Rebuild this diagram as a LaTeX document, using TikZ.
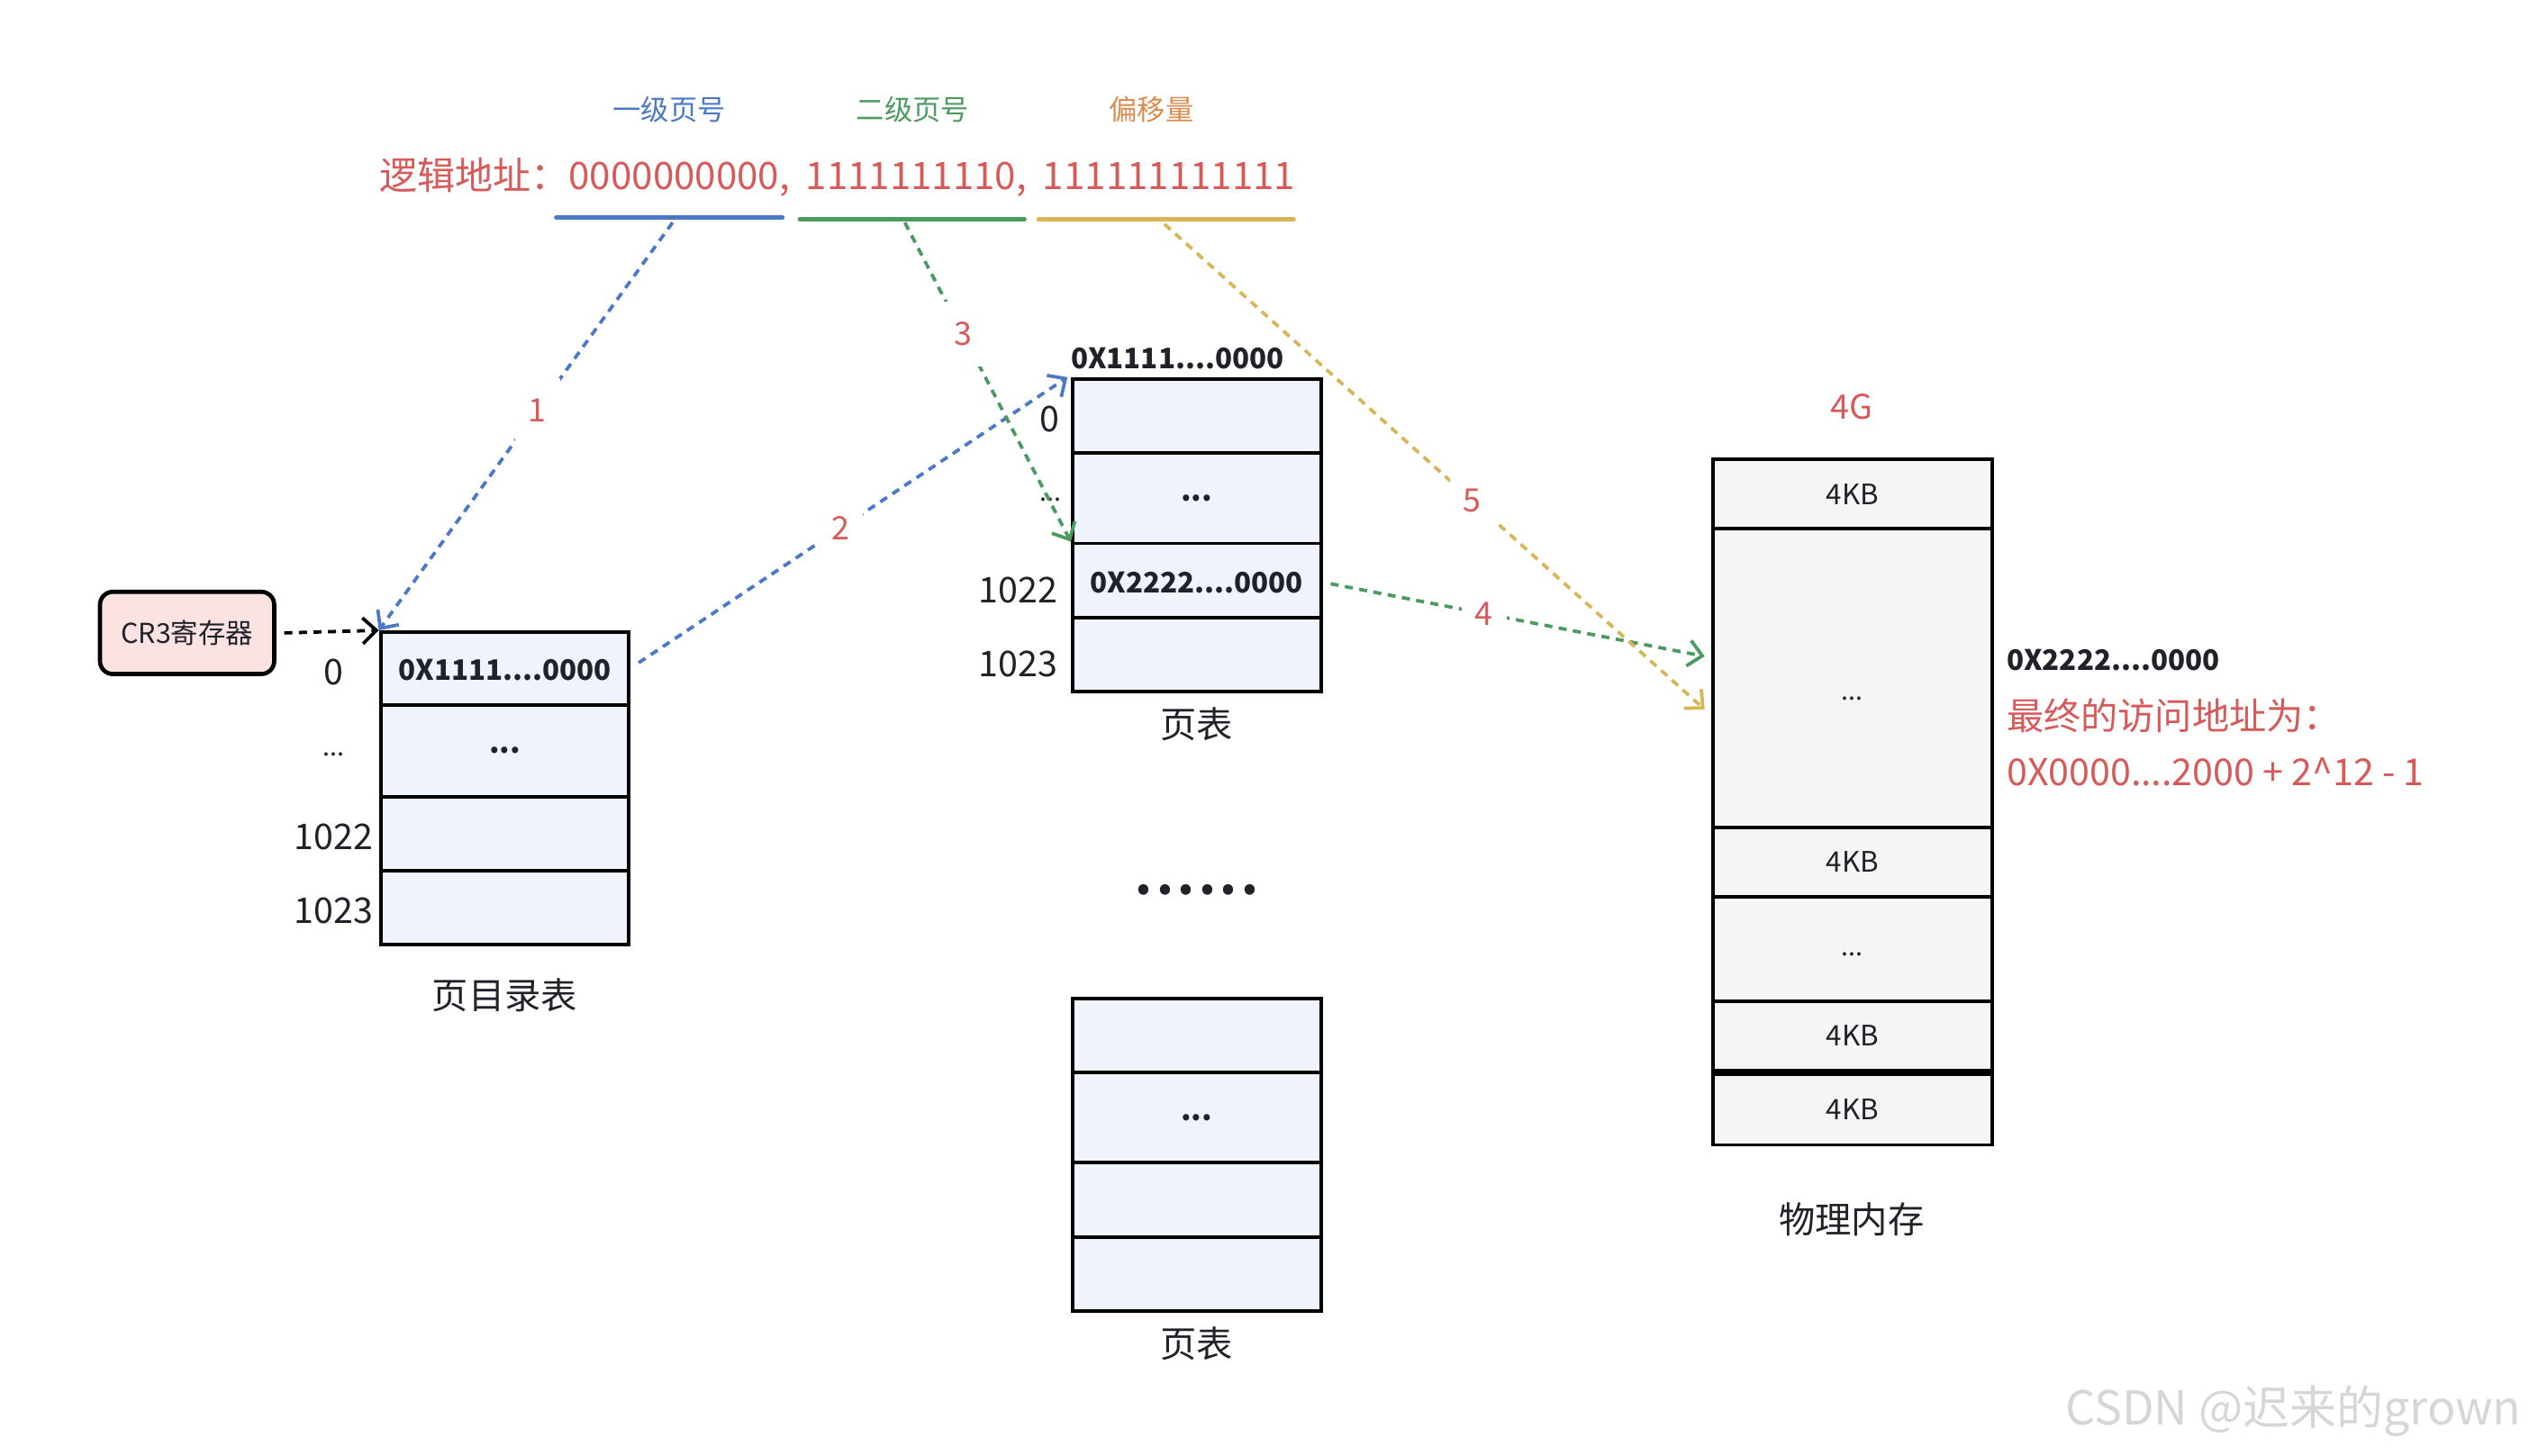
\documentclass[tikz,border=0pt]{standalone}
\usepackage{fontspec}
\setmainfont{Noto Sans CJK SC}
\usetikzlibrary{arrows.meta}
\definecolor{cblue}{HTML}{4C78C8}
\definecolor{cgreen}{HTML}{4B9A60}
\definecolor{cyellow}{HTML}{D6B656}
\definecolor{corange}{HTML}{DB8B4F}
\definecolor{cred}{HTML}{D75A5A}
\definecolor{ctext}{HTML}{1F2329}
\definecolor{tblfill}{HTML}{EEF3FC}
\definecolor{memfill}{HTML}{F5F5F5}
\definecolor{crfill}{HTML}{FDE2E2}
\definecolor{wmark}{HTML}{D6D6D6}
\newcommand\setfs[1]{\fontsize{#1}{#1}\selectfont}
\begin{document}
\begin{tikzpicture}[x=1pt,y=-1pt,
  every node/.style={text=ctext, inner sep=0pt},
  tbl/.style={draw=black, line width=2.2pt, fill=tblfill, minimum width=154pt},
  mem/.style={draw=black, line width=2.2pt, fill=memfill, minimum width=173pt},
  boldtxt/.style={font=\setfs{17.5}\bfseries, text height=15pt, text depth=0pt},
  dotstxt/.style={font=\setfs{18.5}\bfseries},
  numlbl/.style={font=\setfs{22}},
  caption/.style={font=\setfs{22.5}},
  memtxt/.style={font=\setfs{16}},
  kbtxt/.style={font=\setfs{17.5}, text height=12.5pt, text depth=0pt},
  conn/.style={line width=2.1pt, dash pattern=on 5pt off 4pt, -{Straight Barb[length=8.5pt,width=16pt,line width=2.1pt]}},
  lbl/.style={text=cred, font=\setfs{20}, fill=white, minimum width=28pt, minimum height=40pt},
  uline/.style={line width=3pt, line cap=round}
]
\useasboundingbox (0,0) rectangle (1568,902.4);

% top labels
\node[text=cblue, font=\setfs{17.5}] (t1) at (415,68) {一级页号};
\node[text=cgreen, font=\setfs{17.5}] (t2) at (566,68) {二级页号};
\node[text=corange, font=\setfs{17.5}] (t3) at (714,68) {偏移量};
\node[text=cred, font=\setfs{23.5}, anchor=west] (addr) at (235,110) {逻辑地址：0000000000,\hspace{10pt}1111111110,\hspace{10pt}111111111111};

% underlines
\coordinate (ub1) at (345,135); \coordinate (ub2) at (485,135);
\coordinate (ug1) at (496,136); \coordinate (ug2) at (635,136);
\coordinate (uy1) at (644,136); \coordinate (uy2) at (802,136);
\draw[uline, cblue] (ub1) -- (ub2);
\draw[uline, cgreen] (ug1) -- (ug2);
\draw[uline, cyellow] (uy1) -- (uy2);

% CR3
\node[draw=black, line width=2.6pt, fill=crfill, rounded corners=8pt, minimum width=108pt, minimum height=51pt, font=\setfs{17}] (cr3) at (116,392.5) {CR3寄存器};

% page directory
\node[tbl, minimum height=45pt, boldtxt] (pd0) at (313,414.5) {0X1111....0000};
\node[tbl, minimum height=57pt, dotstxt] (pd1) at (313,465.5) {...};
\node[tbl, minimum height=46pt] (pd2) at (313,517) {};
\node[tbl, minimum height=46pt] (pd3) at (313,563) {};
\node[numlbl] (pdl0) at (207,417) {0};
\node[memtxt] (pdl1) at (207,468) {...};
\node[numlbl] (pdl2) at (207,519) {1022};
\node[numlbl] (pdl3) at (207,565) {1023};
\node[caption] (pdcap) at (313,617) {页目录表};

% page table 1
\node[boldtxt] (pthead) at (730,221) {0X1111....0000};
\node[tbl, minimum height=46pt] (pt0) at (742,258) {};
\node[tbl, minimum height=56pt, dotstxt] (pt1) at (742,309) {...};
\node[tbl, minimum height=46pt, boldtxt] (pt2) at (742,360) {0X2222....0000};
\node[tbl, minimum height=46pt] (pt3) at (742,406) {};
\node[numlbl, anchor=east] (ptl0) at (657,260) {0};
\node[memtxt, anchor=east] (ptl1) at (658,310) {...};
\node[numlbl, anchor=east] (ptl2) at (656,366) {1022};
\node[numlbl, anchor=east] (ptl3) at (656,412) {1023};
\node[caption] (ptcap) at (742,449) {页表};

% dots between
\node[font=\setfs{30}\bfseries, anchor=base] (dots) at (742,555) {.\hspace{2.6pt}.\hspace{2.6pt}.\hspace{2.6pt}.\hspace{2.6pt}.\hspace{2.6pt}.};

% page table 2
\node[tbl, minimum height=46pt] (pq0) at (742,642) {};
\node[tbl, minimum height=56pt, dotstxt] (pq1) at (742,693) {...};
\node[tbl, minimum height=46pt] (pq2) at (742,744) {};
\node[tbl, minimum height=46pt] (pq3) at (742,790) {};
\node[caption] (pqcap) at (742,833) {页表};

% physical memory
\node[text=cred, font=\setfs{21}] (g4) at (1148,252) {4G};
\node[mem, minimum height=43pt, kbtxt] (m0) at (1148.5,306.5) {4KB};
\node[mem, minimum height=185pt] (m1) at (1148.5,420.5) {};
\node[memtxt, anchor=base] (m1t) at (1148.5,434) {...};
\node[mem, minimum height=43pt, kbtxt] (m2) at (1148.5,534.5) {4KB};
\node[mem, minimum height=65pt] (m3) at (1148.5,588.5) {};
\node[memtxt, anchor=base] (m3t) at (1148.5,593) {...};
\node[mem, minimum height=43pt, kbtxt] (m4) at (1148.5,642.5) {4KB};
\node[mem, minimum height=44pt, kbtxt] (m5) at (1148.5,688) {4KB};
\node[caption] (mcap) at (1148,756) {物理内存};

% right notes
\node[boldtxt, anchor=west] (r1) at (1244,408) {0X2222....0000};
\node[text=cred, font=\setfs{23}, anchor=west] (r2) at (1244,444) {最终的访问地址为：};
\node[text=cred, font=\setfs{23}, anchor=west] (r3) at (1244,479) {0X0000....2000 + 2\textasciicircum 12 - 1};

% watermark
\node[text=wmark, font=\setfs{29}] (wm) at (1422,875) {CSDN @迟来的grown};

% connectors
\coordinate (a1s) at (417,138);
\coordinate (a2s) at (396,411);
\coordinate (a3s) at (561,138);
\coordinate (a4s) at (825,362);
\coordinate (a5s) at (722,139);
\draw[conn, black] ([xshift=5pt]cr3.east) -- (pd0.north west);
\draw[conn, cblue] (a1s) -- node[lbl, pos=0.46] {1} (pd0.north west);
\draw[conn, cblue] (a2s) -- node[lbl, pos=0.47] {2} ([xshift=-2pt]pt0.north west);
\draw[conn, cgreen] (a3s) -- node[lbl, pos=0.35] {3} (pt2.north west);
\draw[conn, cgreen] (a4s) -- node[lbl, pos=0.41] {4} ([xshift=-4pt,yshift=13.5pt]m1.west);
\draw[conn, cyellow] (a5s) -- node[lbl, pos=0.57] {5} ([xshift=-4pt,yshift=-19.5pt]m1.west);
\end{tikzpicture}
\end{document}
